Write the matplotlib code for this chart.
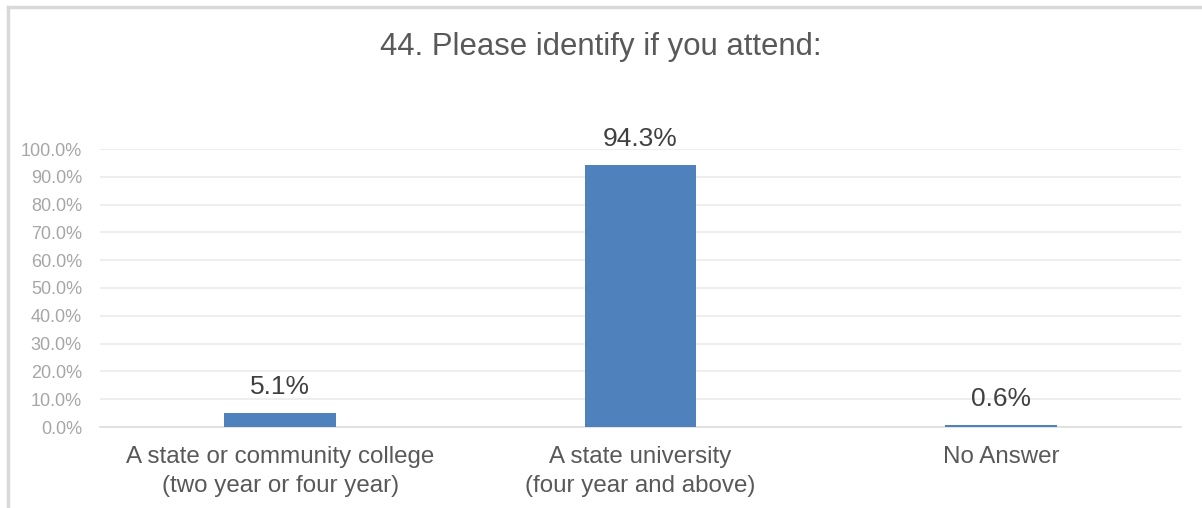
import matplotlib.pyplot as plt
from matplotlib.ticker import FuncFormatter

# --- Data ---
categories = ['A state or community college\n(two year or four year)',
              'A state university\n(four year and above)',
              'No Answer']
shares = [0.051, 0.943, 0.006]
value_labels = ['5.1%', '94.3%', '0.6%']
title = '44. Please identify if you attend:'

plt.rcParams['font.family'] = ['Liberation Sans', 'DejaVu Sans']

fig = plt.figure(figsize=(12.02, 5.08), dpi=100)
fig.patch.set_facecolor('white')

# outer chart border (only top and left visible in the reference)
fig.add_artist(plt.Line2D([8 / 1202, 1.0], [1 - 7 / 508, 1 - 7 / 508],
                          color='#D9D9D9', lw=2.5, transform=fig.transFigure))
fig.add_artist(plt.Line2D([8 / 1202, 8 / 1202], [0, 1 - 7 / 508],
                          color='#D9D9D9', lw=2.5, transform=fig.transFigure))

ax = fig.add_axes([100 / 1202, 1 - 427 / 508, 1081 / 1202, (427 - 149) / 508])

x = range(len(categories))
bars = ax.bar(x, shares, width=0.31, color='#4F81BD', zorder=3)

for b, lab in zip(bars, value_labels):
    ax.annotate(lab, (b.get_x() + b.get_width() / 2, b.get_height()),
                xytext=(0, 10), textcoords='offset points',
                ha='center', va='bottom', fontsize=19, color='#404040')

ax.set_xlim(-0.5, len(categories) - 0.5)
ax.set_ylim(0, 1.0)
ax.set_yticks([i / 10 for i in range(11)])
ax.yaxis.set_major_formatter(FuncFormatter(lambda v, p: f'{v * 100:.1f}%'))
ax.set_xticks(list(x))
ax.set_xticklabels(categories, fontsize=17.4, color='#595959', linespacing=1.38)

ax.tick_params(axis='y', length=0, pad=13, labelsize=13, labelcolor='#A6A6A6')
ax.tick_params(axis='x', length=0, pad=14)

ax.grid(axis='y', color='#EBEBEB', lw=1.2, zorder=0)
for s in ['top', 'right', 'left']:
    ax.spines[s].set_visible(False)
ax.spines['bottom'].set_color('#DDDDDD')
ax.spines['bottom'].set_linewidth(1.2)

fig.text(0.5, 1 - 47 / 508, title, ha='center', va='center',
         fontsize=22.4, color='#595959')

fig.savefig('out.png', dpi=100)
